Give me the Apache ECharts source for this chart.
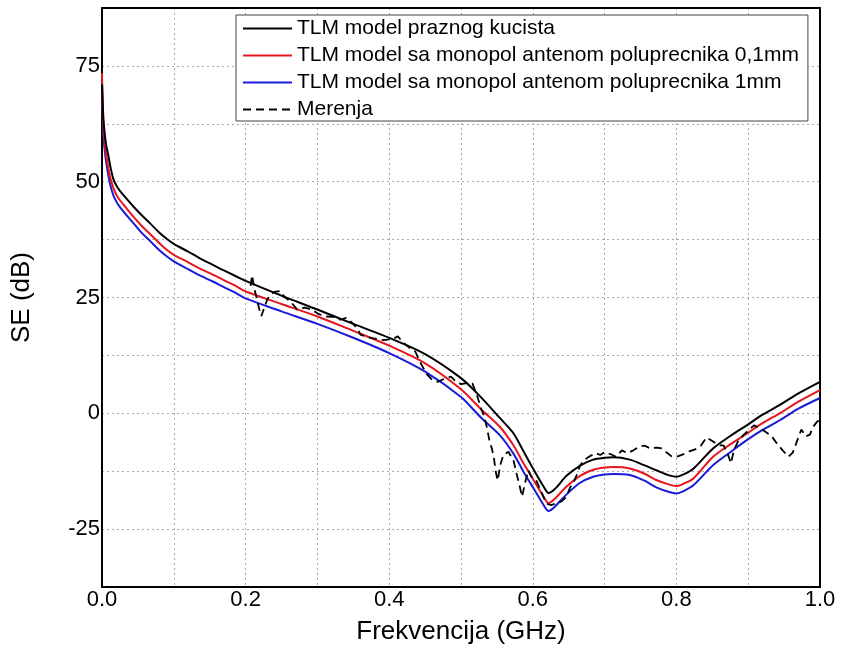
<!DOCTYPE html>
<html>
<head>
<meta charset="utf-8">
<script src="https://cdn.jsdelivr.net/npm/echarts@6/dist/echarts.min.js"></script>
<style>
html,body{margin:0;padding:0;background:#fff;}
#chart{width:842px;height:652px;}
</style>
</head>
<body>
<div id="chart"></div>
<script>
// Frequency (GHz) samples for the TLM model curves
const xModel = [0, 0.001, 0.002, 0.004, 0.006, 0.009, 0.012, 0.016, 0.020, 0.025, 0.035, 0.044, 0.055, 0.067, 0.080, 0.090, 0.100, 0.120, 0.137, 0.155, 0.169, 0.185, 0.200, 0.250, 0.300, 0.350, 0.400, 0.450, 0.500, 0.527, 0.554, 0.573, 0.587, 0.601, 0.615, 0.622, 0.631, 0.647, 0.666, 0.684, 0.700, 0.712, 0.735, 0.755, 0.772, 0.790, 0.800, 0.810, 0.824, 0.851, 0.875, 0.898, 0.920, 0.944, 0.970, 1.000];
// TLM model praznog kucista (black)
const seEmpty = [71, 67, 63.5, 60, 57.8, 55.5, 53, 50.5, 49.2, 48.0, 46.2, 44.6, 42.8, 41.0, 39.0, 37.7, 36.6, 34.9, 33.4, 32.0, 30.9, 29.7, 28.6, 25.4, 22.4, 19.3, 16.3, 12.8, 7.6, 3.6, -1.0, -4.3, -8.2, -12.1, -15.8, -17.2, -16.3, -13.5, -11.3, -10.0, -9.6, -9.5, -10.0, -11.2, -12.3, -13.4, -13.7, -13.2, -11.9, -7.6, -4.9, -2.6, -0.3, 1.8, 4.3, 6.8];
// TLM model sa monopol antenom poluprecnika 0,1mm (red)
const seAnt01 = [73.4, 66, 62, 58, 55.5, 52.8, 50.6, 48.6, 47.2, 46.0, 44.1, 42.4, 40.5, 38.7, 36.7, 35.3, 34.2, 32.6, 31.2, 29.9, 28.8, 27.6, 26.3, 23.6, 20.9, 17.8, 14.6, 10.8, 5.2, 1.0, -2.9, -6.9, -10.8, -14.4, -18.0, -19.4, -18.4, -15.8, -13.5, -12.2, -11.7, -11.6, -11.9, -13.0, -14.4, -15.4, -15.7, -15.2, -14.0, -9.4, -6.7, -4.4, -2.1, 0.0, 2.5, 5.0];
// TLM model sa monopol antenom poluprecnika 1mm (blue)
const seAnt1 = [71.5, 64, 60, 56.5, 54, 51.2, 49.0, 47.0, 45.7, 44.5, 42.6, 41.0, 39.0, 37.2, 35.2, 33.9, 32.8, 31.1, 29.7, 28.4, 27.3, 26.1, 24.8, 22.0, 19.3, 16.3, 13.0, 9.0, 3.5, -0.8, -4.7, -8.7, -12.6, -16.2, -19.8, -21.1, -20.1, -17.5, -15.0, -13.7, -13.2, -13.1, -13.3, -14.5, -16.0, -17.0, -17.3, -16.8, -15.5, -11.2, -8.4, -5.8, -3.6, -1.5, 1.0, 3.3];
// Merenja (measurement, dashed)
const xMeas = [0.207, 0.209, 0.212, 0.216, 0.219, 0.222, 0.226, 0.230, 0.234, 0.240, 0.248, 0.255, 0.262, 0.272, 0.282, 0.292, 0.302, 0.312, 0.322, 0.332, 0.340, 0.348, 0.355, 0.360, 0.368, 0.378, 0.392, 0.404, 0.412, 0.420, 0.428, 0.436, 0.444, 0.452, 0.460, 0.468, 0.476, 0.486, 0.492, 0.500, 0.508, 0.516, 0.522, 0.528, 0.532, 0.536, 0.540, 0.543, 0.546, 0.548, 0.551, 0.555, 0.559, 0.566, 0.573, 0.578, 0.582, 0.585, 0.590, 0.594, 0.598, 0.604, 0.612, 0.619, 0.626, 0.640, 0.647, 0.652, 0.658, 0.662, 0.666, 0.672, 0.680, 0.688, 0.694, 0.700, 0.708, 0.716, 0.724, 0.732, 0.740, 0.748, 0.756, 0.764, 0.772, 0.780, 0.786, 0.794, 0.802, 0.810, 0.818, 0.826, 0.834, 0.842, 0.850, 0.858, 0.866, 0.872, 0.876, 0.880, 0.886, 0.894, 0.902, 0.908, 0.916, 0.924, 0.932, 0.940, 0.948, 0.956, 0.962, 0.968, 0.974, 0.980, 0.986, 0.990, 0.996, 1.000];
const seMeas = [27.5, 29.8, 27.0, 24.5, 22.5, 21.0, 22.8, 24.5, 25.5, 26.2, 26.4, 25.0, 24.2, 22.4, 22.8, 22.4, 21.4, 20.9, 20.8, 20.2, 20.6, 19.6, 18.4, 17.0, 16.5, 16.2, 15.8, 16.0, 16.6, 15.2, 14.2, 13.4, 10.8, 8.5, 7.2, 6.8, 7.4, 7.9, 7.0, 6.3, 6.5, 6.4, 4.0, 1.0, -0.5, -3.0, -6.2, -7.6, -9.8, -12.3, -14.5, -11.0, -9.0, -8.3, -10.1, -13.4, -15.9, -18.0, -14.5, -12.3, -13.7, -14.2, -17.0, -19.5, -19.8, -19.0, -18.0, -16.0, -14.5, -13.0, -11.2, -10.0, -9.2, -8.6, -9.0, -8.4, -8.8, -9.4, -8.0, -8.6, -8.0, -7.2, -7.0, -7.6, -7.4, -7.6, -8.4, -9.4, -9.3, -8.8, -8.2, -7.8, -7.0, -5.2, -6.0, -6.8, -7.0, -9.0, -10.8, -8.0, -6.0, -4.6, -3.5, -2.6, -3.2, -4.0, -4.8, -6.5, -8.0, -9.4, -8.5, -6.0, -3.5, -5.0, -4.6, -3.0, -1.8, -1.5];

const seriesNames = ['TLM model praznog kucista', 'TLM model sa monopol antenom poluprecnika 0,1mm', 'TLM model sa monopol antenom poluprecnika 1mm', 'Merenja'];
const xTickLabels = ['0.0', '0.2', '0.4', '0.6', '0.8', '1.0'];
const yTickLabels = ['-25', '0', '25', '50', '75'];

const pair = (xs, ys) => xs.map((x, i) => [x, ys[i]]);
const FONT = 'Liberation Sans, Arial, sans-serif';

const chart = echarts.init(document.getElementById('chart'), null, {renderer: 'canvas'});
chart.setOption({
  animation: false,
  backgroundColor: '#fff',
  grid: {left: 102, right: 22, top: 8, bottom: 65, containLabel: false},
  legend: {
    orient: 'vertical',
    left: 236, top: 15,
    padding: [3, 9, 1, 6],
    itemWidth: 49, itemHeight: 14, itemGap: 6,
    backgroundColor: '#fff',
    borderColor: '#444', borderWidth: 1,
    itemStyle: {opacity: 0},
    textStyle: {fontFamily: FONT, fontSize: 21, color: '#000', lineHeight: 21},
    data: seriesNames
  },
  xAxis: [{
    type: 'value', min: 0, max: 1, interval: 0.1,
    axisLine: {show: true, onZero: false, lineStyle: {color: '#000', width: 2}},
    axisTick: {show: false},
    axisLabel: {
      fontFamily: FONT, fontSize: 22, color: '#000', margin: 2,
      formatter: v => { const s = v.toFixed(1); return xTickLabels.indexOf(s) >= 0 ? s : ''; }
    },
    splitLine: {show: true, lineStyle: {color: '#aaa', width: 1, type: [2, 3]}},
    name: 'Frekvencija (GHz)', nameLocation: 'middle', nameGap: 32,
    nameTextStyle: {fontFamily: FONT, fontSize: 26, color: '#000'}
  }, {
    type: 'value', min: 0, max: 1, position: 'top',
    axisLine: {show: true, onZero: false, lineStyle: {color: '#000', width: 2}},
    axisTick: {show: false}, axisLabel: {show: false}, splitLine: {show: false}
  }],
  yAxis: [{
    type: 'value', min: -37.5, max: 87.5, interval: 12.5,
    axisLine: {show: true, onZero: false, lineStyle: {color: '#000', width: 2}},
    axisTick: {show: false},
    axisLabel: {
      fontFamily: FONT, fontSize: 22, color: '#000', margin: 2,
      formatter: v => { const s = String(Math.round(v * 10) / 10); return yTickLabels.indexOf(s) >= 0 ? s : ''; }
    },
    splitLine: {show: true, lineStyle: {color: '#aaa', width: 1, type: [2, 3]}},
    name: 'SE (dB)', nameLocation: 'middle', nameGap: 67,
    nameTextStyle: {fontFamily: FONT, fontSize: 26, color: '#000'}
  }, {
    type: 'value', min: -37.5, max: 87.5, position: 'right',
    axisLine: {show: true, onZero: false, lineStyle: {color: '#000', width: 2}},
    axisTick: {show: false}, axisLabel: {show: false}, splitLine: {show: false}
  }],
  series: [
    {name: seriesNames[0], type: 'line', symbol: 'none', smooth: 0.3, data: pair(xModel, seEmpty), lineStyle: {color: '#000', width: 2}, itemStyle: {color: '#000'}, z: 4},
    {name: seriesNames[1], type: 'line', symbol: 'none', smooth: 0.3, data: pair(xModel, seAnt01), lineStyle: {color: '#e8161c', width: 2}, itemStyle: {color: '#e8161c'}, z: 3},
    {name: seriesNames[2], type: 'line', symbol: 'none', smooth: 0.3, data: pair(xModel, seAnt1), lineStyle: {color: '#1a1ad8', width: 2}, itemStyle: {color: '#1a1ad8'}, z: 2},
    {name: seriesNames[3], type: 'line', symbol: 'none', data: pair(xMeas, seMeas), lineStyle: {color: '#000', width: 1.8, type: [8, 5]}, itemStyle: {color: '#000'}, z: 5}
  ]
});
</script>
</body>
</html>
